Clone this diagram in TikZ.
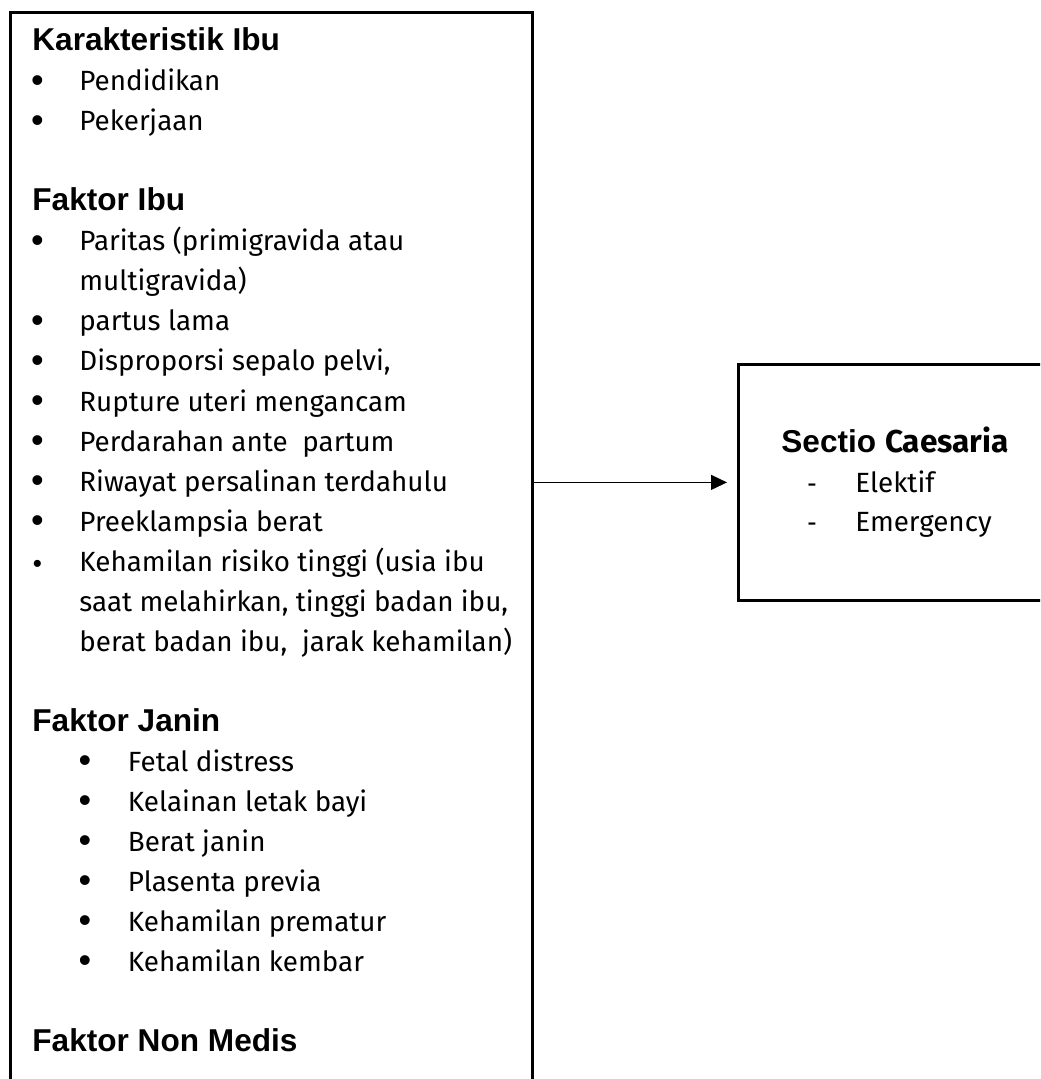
\documentclass[tikz,border=0pt]{standalone}
\usepackage{fontspec}
\setmainfont{Fira Sans}
\newfontfamily\arialfont{Liberation Sans}
\usetikzlibrary{arrows.meta}
\usetikzlibrary{positioning}
\tikzset{
	box/.style={draw,line width=1.4pt,anchor=north west,inner sep=0pt},
	head/.style={font=\arialfont\bfseries\fontsize{15.8}{19}\selectfont,anchor=base west,inner sep=0pt},
	item/.style={font=\fontsize{13.9}{17}\selectfont,anchor=base west,inner sep=0pt},
	dot/.style={font=\arialfont\fontsize{18}{21}\selectfont,anchor=base,inner sep=0pt,yshift=-0.8pt},
	dashmark/.style={font=\arialfont\fontsize{14}{17}\selectfont,anchor=base,inner sep=0pt}
}

\begin{document}
\begin{tikzpicture}[x=0.5pt,y=-0.5pt,>={Triangle[length=8pt,width=7.5pt]}]
	\useasboundingbox (0,0) rectangle (1040,1079);
	\clip (0,0) rectangle (1040,1079);
	% boxes
	\node [box,minimum width=261pt,minimum height=560pt] (faktor) at (9,11) {};
	\node [box,minimum width=200pt,minimum height=118pt] (sc) at (737,363) {};
	% left box: headings
	\node [head] (karakteristik) at (32,51) {Karakteristik Ibu};
	\node [head] (ibu) at (32,51+40*4) {Faktor Ibu};
	\node [head] (janin) at (32,51+40*17) {Faktor Janin};
	\node [head] (nonmedis) at (32,51+40*25) {Faktor Non Medis};
	% left box: items
	\foreach \txt/\row [count=\i] in {Pendidikan/1, Pekerjaan/2,
		{Paritas (primigravida atau}/5, partus lama/7, {Disproporsi sepalo pelvi,}/8,
		Rupture uteri mengancam/9, {Perdarahan ante\ \ partum}/10,
		Riwayat persalinan terdahulu/11, Preeklampsia berat/12,
		{Kehamilan risiko tinggi (usia ibu}/13}
	{
		\node [dot] (b\i) at (37.5,51+40*\row) {\ifnum\row=13 \fontsize{13}{15}\selectfont\fi •};
		\node [item] (t\i) at (79,51+40*\row) {\txt};
	}
	\node [item] (t3b) at (79,51+40*6) {multigravida)};
	\node [item] (t10b) at (79,51+40*14) {saat melahirkan, tinggi badan ibu,};
	\node [item] (t10c) at (79,51+40*15) {berat badan ibu,\ \ jarak kehamilan)};
	\foreach \txt [count=\i from 18] in {Fetal distress, Kelainan letak bayi, Berat janin,
		Plasenta previa, Kehamilan prematur, Kehamilan kembar}
	{
		\node [dot] (jb\i) at (85,51+40*\i) {•};
		\node [item] (jt\i) at (127.5,51+40*\i) {\txt};
	}
	% right box
	\node [head] (sectio) at (781,452) {Sectio {\rmfamily Caesaria}};
	\node [dashmark] (d1) at (812,492) {-};
	\node [item] (elektif) at (855,492) {Elektif};
	\node [dashmark] (d2) at (812,531) {-};
	\node [item] (emergency) at (855,531) {Emergency};
	% arrow
	\draw [->,line width=0.6pt] (faktor.east |- sc.west) -- ([xshift=-5pt]sc.west);
\end{tikzpicture}
\end{document}
